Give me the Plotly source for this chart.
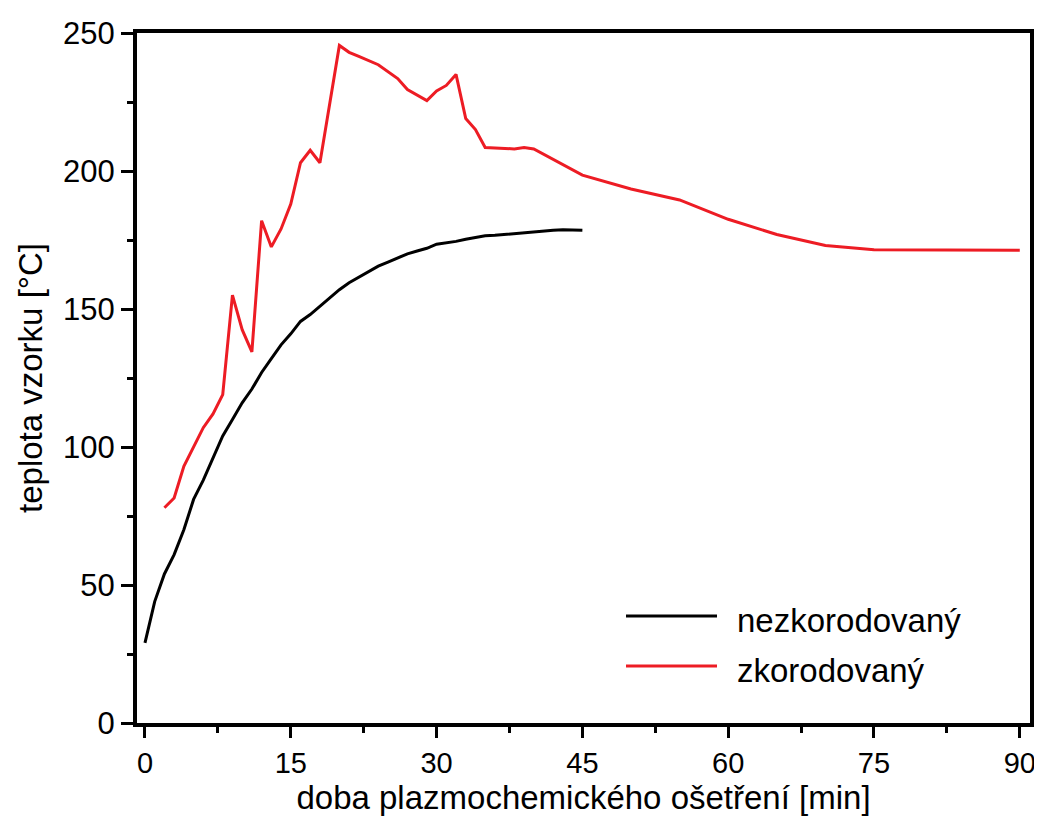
import plotly.graph_objects as go

# --- data ---
time_nezk = list(range(0, 46))
temp_nezk = [29, 44, 54, 61, 70, 81, 88, 96, 104, 110, 116, 121, 127, 132, 137, 141,
             145.5, 148, 151, 154, 157, 159.5, 161.5, 163.5, 165.5, 167, 168.5, 170,
             171, 172, 173.5, 174, 174.5, 175.3, 176, 176.5, 176.7, 177, 177.5, 177.7,
             178, 178.2, 178.5, 178.7, 178.6, 178.5]

time_zk = [2, 3, 4, 5, 6, 7, 8, 9, 10, 11, 12, 13, 14, 15, 16, 17, 18, 20, 21, 22, 24,
           26, 27, 29, 30, 31, 32, 33, 34, 35, 38, 39, 40, 45, 50, 55, 60, 65, 70, 75,
           80, 90]
temp_zk = [78, 81.5, 93, 100, 107, 112, 119, 155, 142.5, 134.5, 182, 172.5, 179, 188,
           203, 207.5, 203, 245.5, 243, 241.5, 238.5, 233.5, 229.5, 225.5, 229, 231,
           235, 219, 215, 208.5, 208, 208.5, 208, 198.5, 193.5, 189.5, 182.5, 177, 173,
           171.5, 171.5, 171.3]

series_names = ["nezkorodovaný", "zkorodovaný"]
series_colors = ["#000000", "#ED1C24"]

x_ticks = [0, 15, 30, 45, 60, 75, 90]
y_ticks = [0, 50, 100, 150, 200, 250]

FONT = "Liberation Sans, Arial, sans-serif"

fig = go.Figure()
fig.add_trace(go.Scatter(x=time_nezk, y=temp_nezk, mode="lines", name=series_names[0],
                         line=dict(color=series_colors[0], width=3)))
fig.add_trace(go.Scatter(x=time_zk, y=temp_zk, mode="lines", name=series_names[1],
                         line=dict(color=series_colors[1], width=3)))

axis_common = dict(
    automargin=False,
    showgrid=False, zeroline=False, showline=True, linecolor="black", linewidth=4,
    mirror=True, ticks="outside", tickwidth=3, tickcolor="black",
)

fig.update_xaxes(
    range=[-0.82, 91.05], tickvals=x_ticks, ticklen=11,
    tickfont=dict(family=FONT, size=29, color="black"),
    minor=dict(ticks="outside", ticklen=6, tickwidth=3, tickcolor="black", dtick=7.5, tick0=0),
    title=dict(text="doba plazmochemického ošetření [min]",
               font=dict(family=FONT, size=33, color="black"), standoff=19),
    **axis_common,
)
fig.update_yaxes(
    range=[0, 250], tickvals=y_ticks, ticklen=12,
    tickfont=dict(family=FONT, size=31, color="black"),
    minor=dict(ticks="outside", ticklen=6, tickwidth=3, tickcolor="black", dtick=25, tick0=0),
    title=dict(text="teplota vzorku [°C]",
               font=dict(family=FONT, size=33, color="black"), standoff=12),
    **axis_common,
)

# manual legend (long line samples as in the reference)
legend_line_y = [0.1551, 0.0826]
legend_text_y = [0.1479, 0.0754]
shapes = []
annotations = []
for name, color, ly, ty in zip(series_names, series_colors, legend_line_y, legend_text_y):
    shapes.append(dict(type="line", xref="paper", yref="paper", x0=0.5476, x1=0.6495,
                       y0=ly, y1=ly, line=dict(color=color, width=3)))
    annotations.append(dict(text=name, xref="paper", yref="paper", x=0.6697, y=ty,
                            xanchor="left", yanchor="middle", showarrow=False,
                            font=dict(family=FONT, size=33, color="black")))

fig.update_layout(
    width=1034, height=808,
    margin=dict(l=129, r=12, t=25, b=93, autoexpand=False),
    paper_bgcolor="white", plot_bgcolor="white",
    showlegend=False,
    shapes=shapes, annotations=annotations,
    font=dict(family=FONT, color="black"),
)

fig.write_html("out.html")
